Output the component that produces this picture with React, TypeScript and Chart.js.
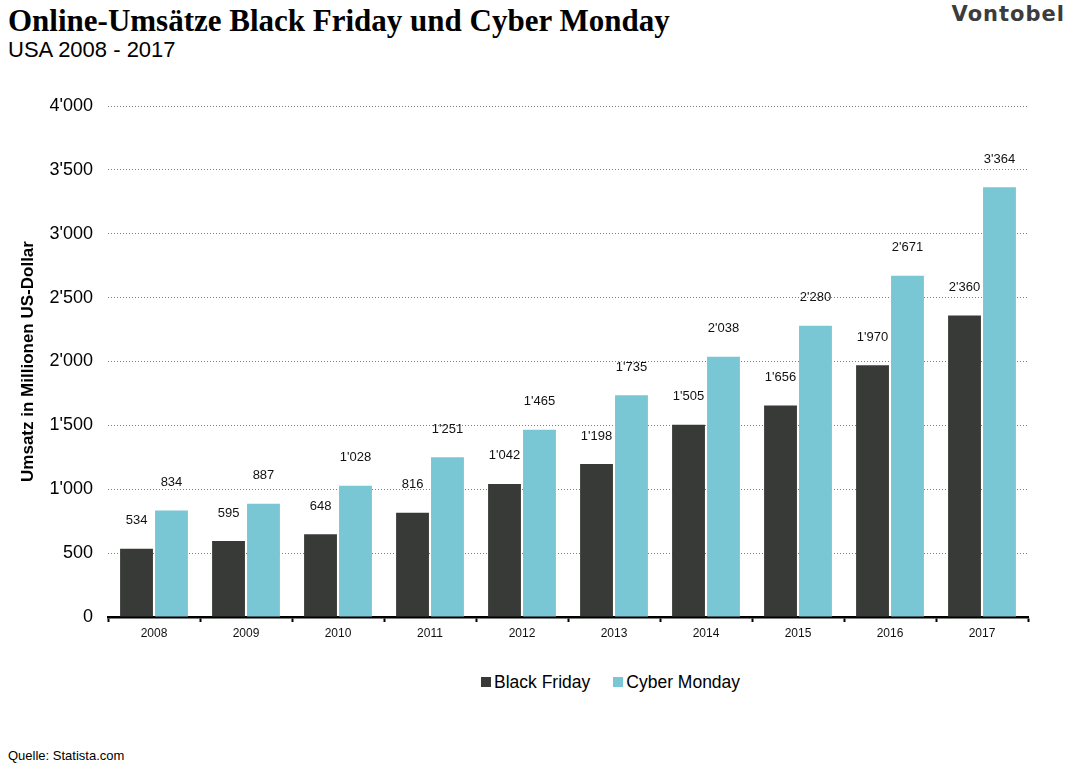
import { useEffect, useRef } from 'react'
import { Chart, registerables } from 'chart.js'

Chart.register(...registerables)

const YEARS = ['2008', '2009', '2010', '2011', '2012', '2013', '2014', '2015', '2016', '2017']
const BLACK_FRIDAY = [534, 595, 648, 816, 1042, 1198, 1505, 1656, 1970, 2360]
const CYBER_MONDAY = [834, 887, 1028, 1251, 1465, 1735, 2038, 2280, 2671, 3364]

const BF_COLOR = '#383a37'
const CM_COLOR = '#79c6d4'

// Swiss thousands separator: 1'251
const fmt = (v: number) =>
  v >= 1000 ? `${Math.floor(v / 1000)}'${String(v % 1000).padStart(3, '0')}` : String(v)

const valueLabels = {
  id: 'valueLabels',
  afterDatasetsDraw(chart: Chart) {
    const ctx = chart.ctx
    ctx.save()
    ctx.font = '13px "Liberation Sans", Arial, sans-serif'
    ctx.fillStyle = '#111'
    ctx.textAlign = 'center'
    ctx.textBaseline = 'middle'
    chart.data.datasets.forEach((ds, i) => {
      chart.getDatasetMeta(i).data.forEach((bar: any, j) => {
        ctx.fillText(fmt(ds.data[j] as number), bar.x, bar.y - 28)
      })
    })
    ctx.restore()
  },
}

export default function App() {
  const canvasRef = useRef<HTMLCanvasElement>(null)

  useEffect(() => {
    if (!canvasRef.current) return
    const chart = new Chart(canvasRef.current, {
      type: 'bar',
      data: {
        labels: YEARS,
        datasets: [
          { label: 'Black Friday', data: BLACK_FRIDAY, backgroundColor: BF_COLOR },
          { label: 'Cyber Monday', data: CYBER_MONDAY, backgroundColor: CM_COLOR },
        ],
      },
      options: {
        animation: false,
        responsive: false,
        layout: { padding: { top: 106, right: 42, left: 0, bottom: 0 } },
        datasets: { bar: { categoryPercentage: 0.76, barPercentage: 0.94 } },
        plugins: { legend: { display: false }, tooltip: { enabled: false } },
        scales: {
          x: {
            grid: {
              offset: true,
              drawOnChartArea: false,
              drawTicks: true,
              tickLength: 5,
              tickColor: '#000',
              tickWidth: 2,
            },
            border: { color: '#000', width: 2.5 },
            ticks: {
              padding: 4,
              color: '#111',
              font: { family: '"Liberation Sans", Arial, sans-serif', size: 12 },
            },
            afterFit: (s: any) => {
              s.height = 43
            },
          },
          y: {
            min: 0,
            max: 4000,
            grid: { color: '#7f7f7f', lineWidth: 1, drawTicks: false },
            border: { display: false, dash: [1, 2] },
            ticks: {
              stepSize: 500,
              padding: 15,
              color: '#000',
              font: { family: '"Liberation Sans", Arial, sans-serif', size: 18 },
              callback: (v) => fmt(Number(v)),
            },
            title: {
              display: true,
              text: 'Umsatz in Millionen US-Dollar',
              color: '#000',
              padding: { top: 18, bottom: 0 },
              font: { family: '"Liberation Sans", Arial, sans-serif', size: 17, weight: 'bold' },
            },
            afterFit: (s: any) => {
              s.width = 108
            },
          },
        },
      },
      plugins: [valueLabels],
    })
    return () => chart.destroy()
  }, [])

  const sans = '"Liberation Sans", Arial, sans-serif'

  return (
    <div
      style={{
        position: 'fixed',
        left: 0,
        top: 0,
        width: 1070,
        height: 765,
        background: '#fff',
        fontFamily: sans,
        color: '#000',
      }}
    >
      {/* header */}
      <div
        style={{
          position: 'absolute',
          left: 8,
          top: 3,
          fontFamily: '"Liberation Serif", Georgia, serif',
          fontWeight: 'bold',
          fontSize: 31,
          lineHeight: '36px',
          whiteSpace: 'nowrap',
        }}
      >
        Online-Umsätze Black Friday und Cyber Monday
      </div>
      <div style={{ position: 'absolute', left: 8, top: 36, fontSize: 22, lineHeight: '27px' }}>
        USA 2008 - 2017
      </div>
      <div
        style={{
          position: 'absolute',
          right: 5,
          top: 1,
          fontFamily: '"DejaVu Sans", sans-serif',
          fontWeight: 'bold',
          fontSize: 21,
          letterSpacing: 1,
          lineHeight: '26px',
          color: '#3c3c3c',
        }}
      >
        Vontobel
      </div>

      <canvas ref={canvasRef} width={1070} height={660} style={{ position: 'absolute', left: 0, top: 0 }} />

      {/* legend */}
      <div
        style={{
          position: 'absolute',
          left: 481,
          top: 671,
          display: 'flex',
          alignItems: 'center',
          fontSize: 17.5,
          lineHeight: '22px',
          whiteSpace: 'nowrap',
        }}
      >
        <span style={{ width: 10, height: 10, background: BF_COLOR, marginRight: 3 }} />
        <span>Black Friday</span>
        <span style={{ width: 10, height: 10, background: CM_COLOR, marginLeft: 23, marginRight: 3 }} />
        <span>Cyber Monday</span>
      </div>

      <div style={{ position: 'absolute', left: 8, top: 748, fontSize: 13, lineHeight: '16px' }}>
        Quelle: Statista.com
      </div>
    </div>
  )
}
